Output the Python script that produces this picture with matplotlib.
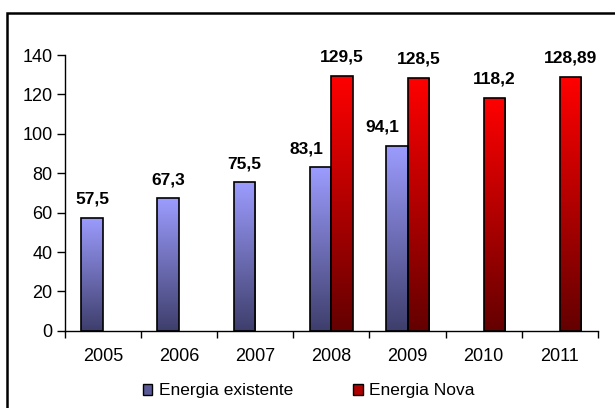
import numpy as np
import matplotlib
matplotlib.use("Agg")
import matplotlib.pyplot as plt
from matplotlib.colors import LinearSegmentedColormap
from matplotlib.patches import Rectangle, Patch

# dados dos leiloes de energia
anos = ['2005', '2006', '2007', '2008', '2009', '2010', '2011']
existente = [57.5, 67.3, 75.5, 83.1, 94.1, None, None]
nova = [None, None, None, 129.5, 128.5, 118.2, 128.89]
rotulos_existente = ['57,5', '67,3', '75,5', '83,1', '94,1', '', '']
rotulos_nova = ['', '', '', '129,5', '128,5', '118,2', '128,89']

plt.rcParams['font.family'] = ['Liberation Sans', 'DejaVu Sans']

fig = plt.figure(figsize=(6.15, 4.08), dpi=100)
ax = fig.add_axes([0.1057, 0.189, 0.8663, 0.676])

# moldura em volta do grafico
fig.patches.append(Rectangle((7 / 615, -0.05), 1.2, 1 - 13 / 408 + 0.05,
                             transform=fig.transFigure, fill=False,
                             edgecolor='black', linewidth=1.8, zorder=0))

cmap_azul = LinearSegmentedColormap.from_list('azul', ['#3e3e6c', '#9c9cff'])
cmap_verm = LinearSegmentedColormap.from_list('verm', ['#640000', '#ff0000'])
grad = np.linspace(0, 1, 256).reshape(-1, 1)

largura = 0.285
x = np.arange(len(anos))


def barras(pos, valores, cmap, rotulos, vizinho=None):
    for i, (xi, v, r) in enumerate(zip(pos, valores, rotulos)):
        if v is None:
            continue
        b = ax.bar(xi, v, largura, align='edge', facecolor='none',
                   edgecolor='black', linewidth=1.2, zorder=3)[0]
        im = ax.imshow(grad, cmap=cmap, origin='lower', aspect='auto',
                       extent=[xi, xi + largura, 0, v], zorder=2)
        im.set_clip_path(b)
        # rotulo afastado para a esquerda quando ha barra vizinha
        if vizinho is not None and vizinho[i] is not None:
            ax.annotate(r, (xi + largura, v), xytext=(-6, 8),
                        textcoords='offset points', ha='right', va='bottom',
                        fontsize=12.5, fontweight='bold', zorder=6)
        else:
            ax.annotate(r, (xi + largura / 2, v), xytext=(0, 8),
                        textcoords='offset points', ha='center', va='bottom',
                        fontsize=12.5, fontweight='bold', zorder=6)


barras(x - largura, existente, cmap_azul, rotulos_existente, vizinho=nova)
barras(x, nova, cmap_verm, rotulos_nova)

ax.set_xlim(-0.5, len(anos) - 0.5)
ax.set_ylim(0, 140)
ax.set_yticks(range(0, 141, 20))
ax.set_xticks(np.arange(-0.5, len(anos), 1))
ax.set_xticklabels([])
ax.set_xticks(x, minor=True)
ax.set_xticklabels(anos, minor=True)
ax.tick_params(axis='x', which='minor', length=0, pad=12, labelsize=13)
ax.tick_params(axis='x', which='major', length=5, width=1)
ax.tick_params(axis='y', length=6, width=1, labelsize=13, pad=3)

for lado in ['top', 'right']:
    ax.spines[lado].set_visible(False)
for lado in ['left', 'bottom']:
    ax.spines[lado].set_linewidth(1)

leg = [Patch(facecolor='#5a5a98', edgecolor='black', label='Energia existente'),
       Patch(facecolor='#b00000', edgecolor='black', label='Energia Nova')]
fig.legend(handles=leg, loc='center', bbox_to_anchor=(0.502, 0.042), ncol=2,
           frameon=False, fontsize=12.5, handlelength=0.57, handleheight=0.57,
           handletextpad=0.4, columnspacing=3.4)

fig.savefig('out.png', dpi=100)
